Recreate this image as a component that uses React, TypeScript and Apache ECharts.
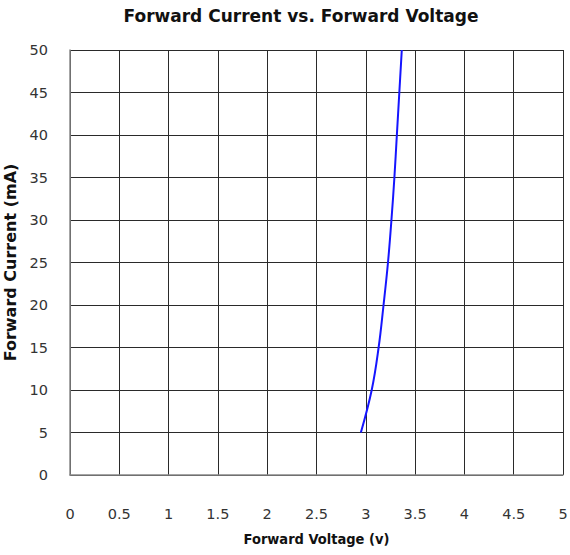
import React, { useEffect, useRef } from "react";
import * as echarts from "echarts";

const voltage = [2.95, 3.06, 3.13, 3.18, 3.225, 3.26, 3.29, 3.315, 3.34, 3.365];
const current = [5, 10, 15, 20, 25, 30, 35, 40, 45, 50];
const titleText = "Forward Current vs. Forward Voltage";
const xName = "Forward Voltage (v)";
const yName = "Forward Current (mA)";

export default function App() {
  const ref = useRef<HTMLDivElement>(null);
  useEffect(() => {
    if (!ref.current) return;
    const chart = echarts.init(ref.current, null, { renderer: "svg" });
    const points = voltage.map((v, i) => [v, current[i]]);
    chart.setOption({
      animation: false,
      backgroundColor: "#fff",
      title: {
        text: titleText,
        left: 296,
        textAlign: "center",
        top: 2,
        textStyle: { fontFamily: "DejaVu Sans", fontWeight: "bold", fontSize: 17, color: "#111" },
      },
      grid: {
        left: 70,
        right: 7,
        top: 50,
        bottom: 80,
        containLabel: false,
        outerBoundsMode: "none",
      },
      xAxis: {
        type: "value",
        min: 0,
        max: 5,
        interval: 0.5,
        name: xName,
        nameLocation: "middle",
        nameGap: 56,
        nameTextStyle: {
          fontFamily: "'DejaVu Sans Condensed', 'Liberation Sans', sans-serif",
          fontWeight: "bold",
          fontSize: 14.5,
          color: "#111",
        },
        axisLine: { show: true, lineStyle: { color: "#888", width: 1.5 } },
        axisTick: { show: false },
        axisLabel: { margin: 31, fontFamily: "DejaVu Sans", fontSize: 14.5, color: "#333" },
        splitLine: { show: true, lineStyle: { color: "#2a2a2a", width: 1 } },
      },
      yAxis: {
        type: "value",
        min: 0,
        max: 50,
        interval: 5,
        name: yName,
        nameLocation: "middle",
        nameGap: 38,
        nameTextStyle: {
          fontFamily: "DejaVu Sans",
          fontWeight: "bold",
          fontSize: 16,
          color: "#111",
        },
        axisLine: { show: true, lineStyle: { color: "#888", width: 1.5 } },
        axisTick: { show: false },
        axisLabel: { margin: 22, fontFamily: "DejaVu Sans", fontSize: 14.5, color: "#333" },
        splitLine: { show: true, lineStyle: { color: "#2a2a2a", width: 1 } },
      },
      series: [
        {
          type: "line",
          data: points,
          smooth: 0.4,
          showSymbol: false,
          lineStyle: { color: "#1515ff", width: 2 },
        },
      ],
    });
    return () => chart.dispose();
  }, []);
  return (
    <div
      ref={ref}
      style={{ position: "absolute", left: 0, top: 0, width: 570, height: 555 }}
    />
  );
}
